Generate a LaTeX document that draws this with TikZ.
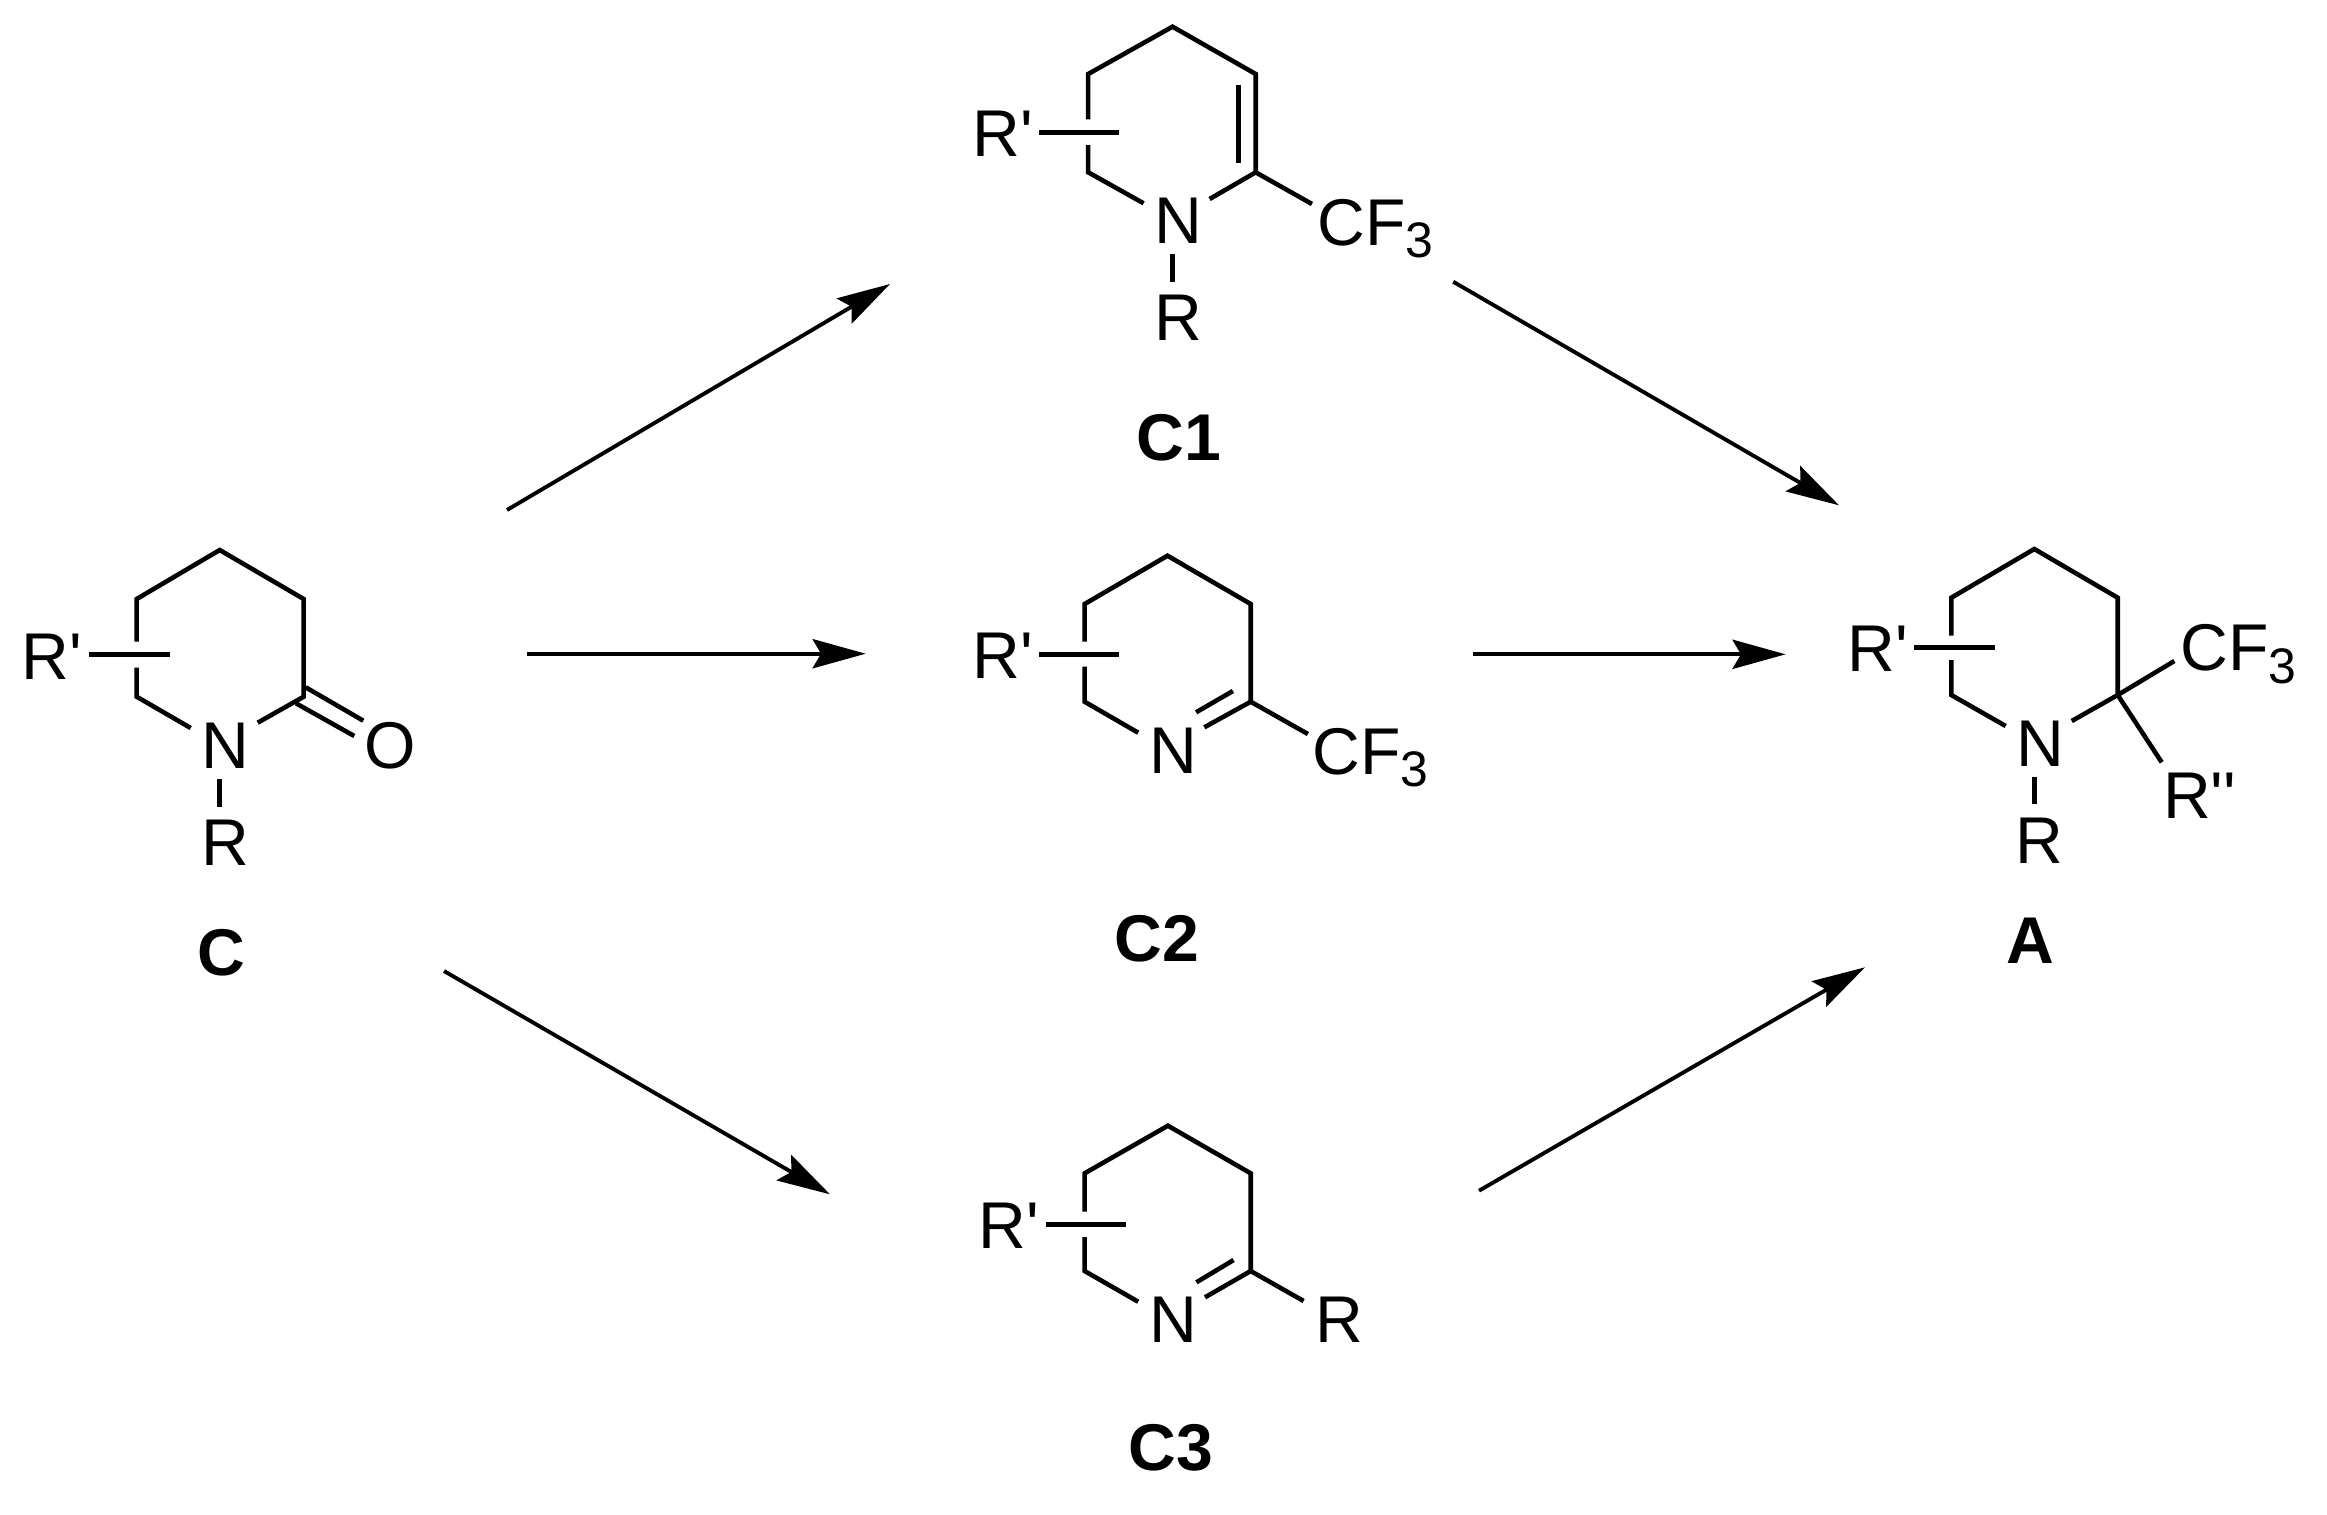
\documentclass[tikz,border=0pt]{standalone}
\usepackage{fontspec}
\usetikzlibrary{arrows.meta}
\newfontfamily\chemfont{Liberation Sans}
\newcommand{\cfthree}{CF\raisebox{-3.5pt}{\fontsize{14.2pt}{14.2pt}\selectfont 3}}
\tikzset{
  bond/.style={line width=1.3pt,line join=miter,miter limit=10},
  rxn/.style={line width=1.1pt,-{Stealth[length=15.1pt,width=8.3pt,inset=2.4pt]}},
  atom/.style={inner sep=0pt,outer sep=0pt,anchor=base,font=\chemfont\fontsize{18.8pt}{18.8pt}\selectfont},
  atomw/.style={atom,anchor=base west},
  lbl/.style={inner sep=0pt,outer sep=0pt,anchor=base,font=\chemfont\bfseries\fontsize{18.8pt}{18.8pt}\selectfont},
}
\begin{document}
\begin{tikzpicture}[x=0.01cm,y=-0.01cm]
\useasboundingbox (0,0) rectangle (2327,1514);
% ---------- C
\coordinate (ca) at (219.7,550);
\coordinate (cb) at (136.7,599);
\coordinate (cc) at (303.7,599);
\coordinate (cd) at (136.7,696.7);
\coordinate (ce) at (303.7,696.7);
\coordinate (cg1) at (136.7,641.7);
\coordinate (cg2) at (136.7,667.7);
\coordinate (cn1) at (190.7,728);
\coordinate (cn2) at (257.7,722.7);
\coordinate (cs1) at (89,654.3);
\coordinate (cs2) at (170,654.3);
\coordinate (cr1) at (219.7,779.3);
\coordinate (cr2) at (219.7,806.7);
\coordinate (co1) at (305.7,687.3);
\coordinate (co2) at (363.3,720.7);
\coordinate (co3) at (296,703.3);
\coordinate (co4) at (354.3,736);
\node[atomw] (cRp) at (21.5,679) {R'};
\node[atom] (cN) at (225.5,768.3) {N};
\node[atom] (cO) at (390,768.3) {O};
\node[atom] (cR) at (225,865.7) {R};
\node[lbl] (cL) at (221,975.7) {C};
\draw[bond] (cg1) -- (cb) -- (ca) -- (cc) -- (ce) -- (cn2);
\draw[bond] (cg2) -- (cd) -- (cn1);
\draw[bond] (cs1) -- (cs2);
\draw[bond] (cr1) -- (cr2);
\draw[bond] (co1) -- (co2);
\draw[bond] (co3) -- (co4);
% ---------- C1
\coordinate (pa) at (1172.5,26.7);
\coordinate (pb) at (1088.2,74);
\coordinate (pc) at (1255.7,74);
\coordinate (pd) at (1088.2,172.3);
\coordinate (pe) at (1255.7,172.3);
\coordinate (pg1) at (1088.2,119.3);
\coordinate (pg2) at (1088.2,145);
\coordinate (pn1) at (1143.6,203.3);
\coordinate (pn2) at (1209.6,199);
\coordinate (ps1) at (1039,132.7);
\coordinate (ps2) at (1118.6,132.7);
\coordinate (pr1) at (1172.5,254);
\coordinate (pr2) at (1172.5,281.7);
\coordinate (pi1) at (1238.6,85);
\coordinate (pi2) at (1238.6,162.7);
\coordinate (pf) at (1312,204);
\node[atomw] (pRp) at (972.3,156.7) {R'};
\node[atom] (pN) at (1178.2,243.3) {N};
\node[atom] (pR) at (1178,340.7) {R};
\node[atomw] (pCF) at (1317.7,245) {\cfthree};
\node[lbl] (pL) at (1179,460) {C1};
\draw[bond] (pg1) -- (pb) -- (pa) -- (pc) -- (pe) -- (pn2);
\draw[bond] (pg2) -- (pd) -- (pn1);
\draw[bond] (ps1) -- (ps2);
\draw[bond] (pr1) -- (pr2);
\draw[bond] (pi1) -- (pi2);
\draw[bond] (pe) -- (pf);
% ---------- C2
\coordinate (qa) at (1167.5,555.7);
\coordinate (qb) at (1084.6,604);
\coordinate (qc) at (1250.7,604);
\coordinate (qd) at (1084.6,701.7);
\coordinate (qe) at (1250.7,701.7);
\coordinate (qg1) at (1084.6,641.7);
\coordinate (qg2) at (1084.6,666.7);
\coordinate (qn1) at (1138.2,732.7);
\coordinate (qn2) at (1204.3,727.3);
\coordinate (qi1) at (1232.9,691);
\coordinate (qi2) at (1196.1,712.3);
\coordinate (qs1) at (1039,654.3);
\coordinate (qs2) at (1118.6,654.3);
\coordinate (qf) at (1307.9,734);
\node[atomw] (qRp) at (972.3,678.3) {R'};
\node[atom] (qN) at (1173.4,773.3) {N};
\node[atomw] (qCF) at (1312.7,774) {\cfthree};
\node[lbl] (qL) at (1157,961) {C2};
\draw[bond] (qg1) -- (qb) -- (qa) -- (qc) -- (qe) -- (qn2);
\draw[bond] (qg2) -- (qd) -- (qn1);
\draw[bond] (qs1) -- (qs2);
\draw[bond] (qi1) -- (qi2);
\draw[bond] (qe) -- (qf);
% ---------- C3
\coordinate (ta) at (1167.9,1125.7);
\coordinate (tb) at (1084.6,1173.3);
\coordinate (tc) at (1250.7,1173.3);
\coordinate (td) at (1084.6,1271);
\coordinate (te) at (1250.7,1271);
\coordinate (tg1) at (1084.6,1211.7);
\coordinate (tg2) at (1084.6,1237);
\coordinate (tn1) at (1138.2,1301.7);
\coordinate (tn2) at (1205,1297.3);
\coordinate (ti1) at (1233.6,1260);
\coordinate (ti2) at (1196.4,1282.3);
\coordinate (ts1) at (1046,1224.3);
\coordinate (ts2) at (1125.7,1224.3);
\coordinate (tf) at (1303.6,1301);
\node[atomw] (tRp) at (978.4,1248.3) {R'};
\node[atom] (tN) at (1173.4,1342.3) {N};
\node[atom] (tR) at (1339.6,1342.3) {R};
\node[lbl] (tL) at (1170.7,1470) {C3};
\draw[bond] (tg1) -- (tb) -- (ta) -- (tc) -- (te) -- (tn2);
\draw[bond] (tg2) -- (td) -- (tn1);
\draw[bond] (ts1) -- (ts2);
\draw[bond] (ti1) -- (ti2);
\draw[bond] (te) -- (tf);
% ---------- A
\coordinate (aa) at (2034.3,549);
\coordinate (ab) at (1951.3,597.7);
\coordinate (ac) at (2117.7,597.7);
\coordinate (ad) at (1951.3,695);
\coordinate (ae) at (2117.7,695);
\coordinate (ag1) at (1951.3,635.7);
\coordinate (ag2) at (1951.3,660);
\coordinate (an1) at (2005.7,726);
\coordinate (an2) at (2071.7,721);
\coordinate (as1) at (1914.3,647.3);
\coordinate (as2) at (1995,647.3);
\coordinate (ar1) at (2034.3,777.3);
\coordinate (ar2) at (2034.3,804.3);
\coordinate (af1) at (2174.3,661);
\coordinate (af2) at (2161.7,762.3);
\node[atomw] (aRp) at (1847.5,671.7) {R'};
\node[atom] (aN) at (2040.2,766.7) {N};
\node[atom] (aR) at (2039,863.3) {R};
\node[atomw] (aCF) at (2180.7,670.7) {\cfthree};
\node[atomw] (aRpp) at (2163.1,818.3) {R''};
\node[lbl] (aL) at (2030.5,963.3) {A};
\draw[bond] (ag1) -- (ab) -- (aa) -- (ac) -- (ae) -- (an2);
\draw[bond] (ag2) -- (ad) -- (an1);
\draw[bond] (as1) -- (as2);
\draw[bond] (ar1) -- (ar2);
\draw[bond] (ae) -- (af1);
\draw[bond] (ae) -- (af2);
% ---------- reaction arrows
\coordinate (r1s) at (507,510);
\coordinate (r1e) at (890,284);
\coordinate (r2s) at (526.6,653.7);
\coordinate (r2e) at (865.7,653.7);
\coordinate (r3s) at (444,971);
\coordinate (r3e) at (830,1194.3);
\coordinate (r4s) at (1453.2,281.7);
\coordinate (r4e) at (1839,505.3);
\coordinate (r5s) at (1472.9,654.3);
\coordinate (r5e) at (1785.6,654.3);
\coordinate (r6s) at (1479,1190.7);
\coordinate (r6e) at (1865,967.3);
\draw[rxn] (r1s) -- (r1e);
\draw[rxn] (r2s) -- (r2e);
\draw[rxn] (r3s) -- (r3e);
\draw[rxn] (r4s) -- (r4e);
\draw[rxn] (r5s) -- (r5e);
\draw[rxn] (r6s) -- (r6e);
\end{tikzpicture}
\end{document}
